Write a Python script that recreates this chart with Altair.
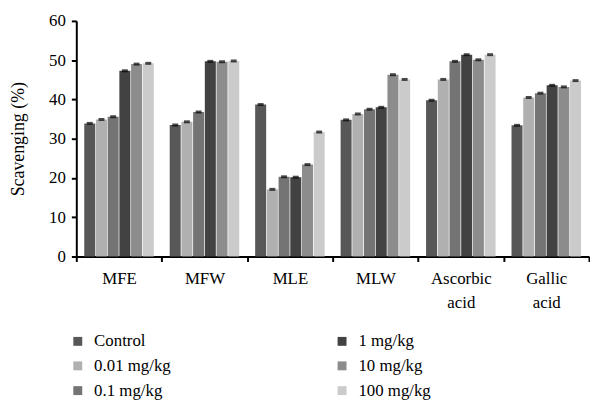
import altair as alt
import pandas as pd

categories = ["MFE", "MFW", "MLE", "MLW", "Ascorbic acid", "Gallic acid"]
doses = ["Control", "0.01 mg/kg", "0.1 mg/kg", "1 mg/kg", "10 mg/kg", "100 mg/kg"]

control = [33.9, 33.5, 38.7, 34.8, 39.8, 33.4]
dose_001 = [34.9, 34.3, 17.1, 36.3, 45.1, 40.5]
dose_01 = [35.6, 36.8, 20.3, 37.5, 49.7, 41.6]
dose_1 = [47.3, 49.7, 20.2, 38.0, 51.4, 43.6]
dose_10 = [49.0, 49.6, 23.4, 46.3, 50.1, 43.2]
dose_100 = [49.2, 49.8, 31.7, 45.1, 51.4, 44.8]

series = [control, dose_001, dose_01, dose_1, dose_10, dose_100]
colors = ["#575757", "#b0b0b0", "#747474", "#424242", "#8c8c8c", "#cbcbcb"]

rows = []
for dose, vals in zip(doses, series):
    for cat, v in zip(categories, vals):
        rows.append({"cat": cat, "dose": dose, "value": v})
df = pd.DataFrame(rows)

FONT = "Liberation Serif, serif"

x = alt.X("cat:N", sort=categories, title=None,
          scale=alt.Scale(paddingInner=0, paddingOuter=0),
          axis=alt.Axis(labelAngle=0, tickBand="extent", labelExpr="split(datum.label, ' ')",
                        labelLineHeight=25, labelPadding=9, tickSize=5,
                        labelFontSize=17, labelFont=FONT))
xo = alt.XOffset("dose:N", sort=doses,
                 scale=alt.Scale(paddingInner=0.06, paddingOuter=0.68))
y = alt.Y("value:Q", title="Scavenging (%)",
          scale=alt.Scale(domain=[0, 60]),
          axis=alt.Axis(values=[0, 10, 20, 30, 40, 50, 60], grid=False, tickSize=5,
                        labelPadding=6, titlePadding=21, labelOverlap=False,
                        labelFont=FONT, titleFont=FONT))

bars = alt.Chart(df).mark_bar().encode(
    x=x,
    xOffset=xo,
    y=y,
    color=alt.Color("dose:N", scale=alt.Scale(domain=doses, range=colors),
                    legend=alt.Legend(title=None, orient="none", legendX=-7, legendY=315,
                                      columns=2, symbolType="square", symbolSize=81,
                                      symbolStrokeWidth=0, labelFontSize=17, labelOffset=8,
                                      rowPadding=7, columnPadding=164, labelFont=FONT,
                                      labelColor="black")),
)

caps = alt.Chart(df).mark_tick(color="black", thickness=3, size=6).encode(
    x=x,
    xOffset=xo,
    y=y,
)

chart = alt.layer(bars, caps).properties(
    width=518, height=238,
    padding={"left": 2, "top": 2, "right": 0, "bottom": 5},
).configure(font=FONT).configure_view(
    stroke=None
).configure_axis(
    domainColor="black", domainWidth=2, tickColor="black", tickWidth=2,
    labelFont=FONT, titleFont=FONT, labelColor="black", titleColor="black",
    labelFontSize=17, titleFontSize=18, titleFontWeight="normal",
).configure_legend(labelFont=FONT)

chart.save("out.html", embed_options={"renderer": "svg", "actions": False})
